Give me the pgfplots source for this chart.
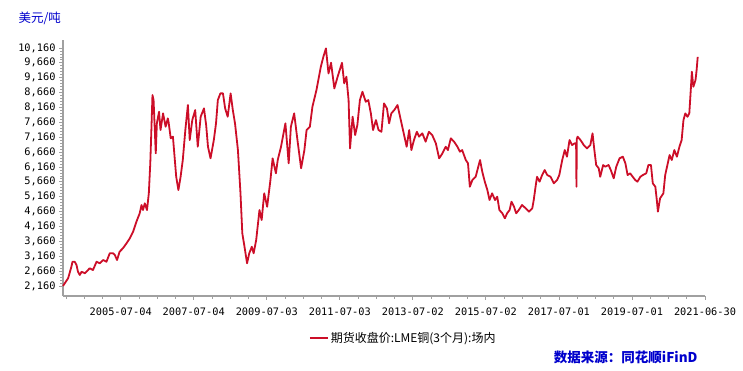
\documentclass[border=0pt]{standalone}
\usepackage{pgfplots}
\pgfplotsset{compat=1.18}
\usepackage{fontspec}
\setmainfont{Noto Sans CJK SC}
\newfontfamily\mono{DejaVu Sans Mono}
\definecolor{lred}{RGB}{204,14,40}
\definecolor{tblue}{RGB}{0,0,204}
\definecolor{axgray}{RGB}{160,160,160}
\begin{document}
\begin{tikzpicture}[x=1pt,y=1pt]
\useasboundingbox (0,0) rectangle (743,371);
\begin{axis}[
  at={(63pt,75pt)}, anchor=south west,
  scale only axis, width=642pt, height=256pt,
  xmin=2003.92, xmax=2021.5, ymin=1824, ymax=10429,
  axis x line*=bottom, axis y line*=left,
  axis line style={draw=axgray, line width=1.6pt, -},
  xtick={2005.5,2007.5,2009.5,2011.5,2013.5,2015.5,2017.5,2019.5,2021.5},
  xticklabels={2005-07-04,2007-07-04,2009-07-03,2011-07-03,2013-07-02,2015-07-02,2017-07-01,2019-07-01,2021-06-30},
  minor xtick={2004,2004.5,...,2021.5},
  ytick={2160,2660,...,10160},
  minor y tick num=4,
  tick align=outside,
  major tick length=4pt, minor tick length=3pt,
  tick style={draw=axgray, line width=0.8pt},
  tick label style={font=\mono\fontsize{10.3}{12}\selectfont, text=black},
  xticklabel style={yshift=-4pt},
  /pgf/number format/assume math mode=true,
  yticklabel style={/pgf/number format/.cd, 1000 sep={,}},
  scaled y ticks=false,
  clip=false,
  legend style={at={(0.53,-0.164)}, anchor=center, draw=none, fill=none,
    font=\fontsize{12}{14}\selectfont, inner sep=0pt},
  legend image code/.code={\draw[#1, line width=1.8pt] (0pt,0pt) -- (18pt,0pt);},
]
\addplot[lred, line width=1.8pt, line join=round] table {
x y
2003.92 2160
2004.06 2419
2004.15 2808
2004.18 2976
2004.24 2976
2004.29 2866
2004.33 2640
2004.38 2530
2004.43 2640
2004.52 2587
2004.65 2755
2004.74 2698
2004.84 2976
2004.93 2923
2005.02 3033
2005.11 2976
2005.20 3259
2005.29 3259
2005.34 3202
2005.40 3033
2005.47 3313
2005.56 3427
2005.66 3595
2005.75 3763
2005.84 3985
2005.93 4320
2006.02 4603
2006.07 4882
2006.11 4714
2006.16 4939
2006.22 4714
2006.27 5275
2006.31 6283
2006.34 7402
2006.37 8578
2006.40 8410
2006.46 6619
2006.49 7627
2006.55 8017
2006.59 7402
2006.66 7962
2006.73 7514
2006.79 7795
2006.81 7681
2006.87 7123
2006.93 7180
2007.02 5832
2007.08 5386
2007.14 5832
2007.20 6394
2007.27 7402
2007.34 8242
2007.39 7066
2007.46 7738
2007.54 8074
2007.61 6841
2007.69 7849
2007.78 8130
2007.84 7570
2007.89 6841
2007.96 6451
2008.05 7066
2008.11 7627
2008.16 8410
2008.23 8634
2008.30 8634
2008.36 8130
2008.43 7849
2008.51 8634
2008.57 8074
2008.63 7627
2008.71 6730
2008.78 5275
2008.83 3931
2008.89 3480
2008.96 2923
2009.02 3259
2009.09 3480
2009.14 3259
2009.21 3706
2009.30 4714
2009.36 4378
2009.43 5275
2009.51 4826
2009.60 5722
2009.66 6451
2009.75 5947
2009.80 6394
2009.89 6841
2010.01 7627
2010.10 6283
2010.16 7514
2010.25 7962
2010.34 7066
2010.44 6115
2010.53 6730
2010.59 7402
2010.68 7514
2010.75 8186
2010.86 8746
2010.98 9529
2011.05 9866
2011.12 10146
2011.19 9306
2011.26 9664
2011.35 8802
2011.44 9194
2011.56 9664
2011.62 8970
2011.68 9194
2011.74 8410
2011.78 6786
2011.85 7849
2011.92 7234
2011.98 7570
2012.05 8410
2012.12 8690
2012.21 8354
2012.28 8410
2012.35 7962
2012.41 7402
2012.49 7738
2012.56 7402
2012.64 7345
2012.71 8298
2012.79 8130
2012.85 7627
2012.91 7962
2012.99 8074
2013.08 8242
2013.15 7849
2013.21 7514
2013.28 7123
2013.33 6841
2013.40 7402
2013.46 6730
2013.53 7066
2013.61 7345
2013.67 7180
2013.76 7290
2013.85 7011
2013.94 7345
2014.03 7234
2014.13 6954
2014.22 6451
2014.31 6619
2014.40 6841
2014.46 6730
2014.54 7123
2014.63 7011
2014.72 6841
2014.79 6674
2014.85 6730
2014.95 6394
2015.01 6283
2015.06 5496
2015.13 5722
2015.22 5832
2015.28 6115
2015.34 6394
2015.40 6003
2015.47 5667
2015.54 5386
2015.60 5050
2015.67 5275
2015.75 5050
2015.81 5162
2015.87 4714
2015.95 4603
2016.02 4435
2016.08 4603
2016.15 4714
2016.20 4994
2016.27 4826
2016.33 4603
2016.40 4714
2016.49 4882
2016.59 4771
2016.68 4659
2016.77 4771
2016.81 5050
2016.86 5496
2016.90 5832
2016.97 5667
2017.04 5890
2017.11 6058
2017.18 5890
2017.27 5832
2017.36 5611
2017.45 5722
2017.51 5890
2017.59 6394
2017.66 6730
2017.72 6506
2017.79 7066
2017.86 6898
2017.93 6954
2017.97 6954
2017.98 5496
2017.99 7100
2018.01 7180
2018.09 7066
2018.18 6898
2018.27 6786
2018.36 6898
2018.42 7290
2018.47 6730
2018.52 6226
2018.59 6115
2018.63 5832
2018.71 6226
2018.77 6170
2018.86 6226
2018.92 6058
2019.00 5779
2019.07 6170
2019.16 6451
2019.25 6506
2019.32 6283
2019.38 5890
2019.45 5947
2019.52 5832
2019.59 5722
2019.65 5667
2019.73 5832
2019.80 5890
2019.89 5947
2019.95 6226
2020.02 6226
2020.07 5611
2020.14 5496
2020.18 5050
2020.21 4659
2020.27 5106
2020.36 5275
2020.41 5890
2020.47 6226
2020.53 6562
2020.59 6394
2020.66 6730
2020.73 6506
2020.80 6841
2020.86 7066
2020.91 7738
2020.96 7962
2021.02 7849
2021.07 7962
2021.11 8746
2021.14 9360
2021.18 8858
2021.24 9082
2021.27 9418
2021.30 9860
};
\addlegendentry{期货收盘价:LME铜(3个月):场内}
\end{axis}
\node[text=tblue, font=\fontsize{12.5}{14}\selectfont, anchor=west] at (15,353) {美元/吨};
\node[text=tblue, font=\bfseries\fontsize{13.5}{15}\selectfont, anchor=east] at (701,14) {数据来源：同花顺iFinD};
\end{tikzpicture}
\end{document}
